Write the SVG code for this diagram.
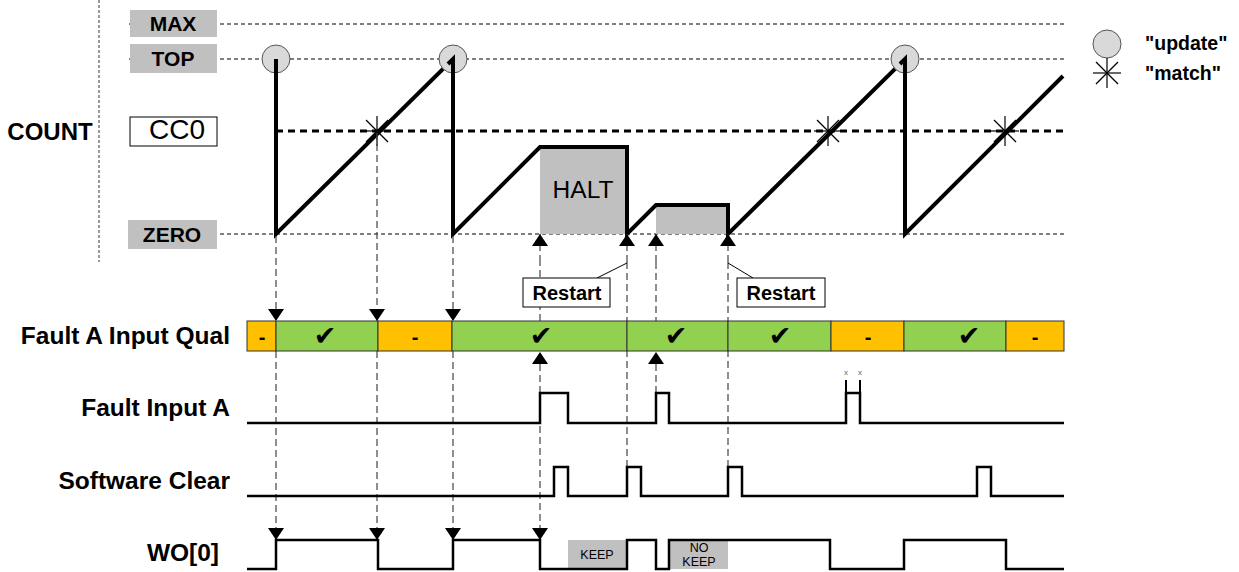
<svg xmlns="http://www.w3.org/2000/svg" width="1239" height="572" viewBox="0 0 1239 572">
<style>
text{font-family:"Liberation Sans",Arial,sans-serif;fill:#000}
.b{font-weight:bold}
.lbl{font-size:21px;font-weight:bold;text-anchor:middle}
.sig{font-size:24.5px;font-weight:bold;text-anchor:end}
.rs{font-size:20px;font-weight:bold;text-anchor:middle}
.ref{stroke:#000;stroke-width:1;stroke-dasharray:4,3;fill:none}
.vd{stroke:#444;stroke-width:1.2;stroke-dasharray:7,4;fill:none}
.wave{stroke:#000;stroke-width:2.5;fill:none;stroke-linejoin:miter}
.cnt{stroke:#000;stroke-width:4;fill:none;stroke-linejoin:miter}
.gbox{fill:#c0c0c0}
.upd{fill:#d9d9d9;stroke:#555;stroke-width:1}
.star{stroke:#000;stroke-width:1.2}
.green{fill:#92d050;stroke:#333;stroke-width:1}
.orange{fill:#ffc000;stroke:#333;stroke-width:1}
.qt{font-size:20px;font-weight:bold;text-anchor:middle}
.ck{font-size:27px;text-anchor:middle;font-family:"DejaVu Sans",sans-serif}
.kp{font-size:12.5px;text-anchor:middle}
</style>
<defs>
<marker id="ah" viewBox="0 0 12 16" refX="12" refY="8" markerWidth="12" markerHeight="16" markerUnits="userSpaceOnUse" orient="auto">
<path d="M0,0 L12,8 L0,16 Z" fill="#000"/>
</marker>
<g id="starShape"><line x1="-14" y1="0" x2="14" y2="0"/><line x1="0" y1="-15" x2="0" y2="15"/><line x1="-11" y1="-11" x2="11" y2="11"/><line x1="-11" y1="11" x2="11" y2="-11"/></g>
</defs>
<rect width="1239" height="572" fill="#fff"/>

<!-- axis separator -->
<line x1="99" y1="0" x2="99" y2="262" stroke="#333" stroke-width="1" stroke-dasharray="3,2"/>

<!-- reference lines -->
<g id="reflines">
<line class="ref" x1="129" y1="24" x2="1065" y2="24"/>
<line class="ref" x1="129" y1="59" x2="1065" y2="59"/>
<line class="ref" x1="129" y1="234" x2="1065" y2="234"/>
<line x1="276" y1="131" x2="1065" y2="131" stroke="#000" stroke-width="3" stroke-dasharray="7,5"/>
</g>

<g id="label-max"><rect class="gbox" x="130" y="10" width="87" height="27"/><text class="lbl" x="173" y="31">MAX</text></g>
<g id="label-top"><rect class="gbox" x="130" y="44" width="87" height="29"/><text class="lbl" x="173" y="66">TOP</text></g>
<g id="label-cc0"><rect x="130" y="117" width="87" height="29" fill="#fff" stroke="#000" stroke-width="1"/><text x="177" y="139" font-size="28" text-anchor="middle">CC0</text></g>
<g id="label-zero"><rect class="gbox" x="128" y="220" width="89" height="29"/><text class="lbl" x="172" y="242">ZERO</text></g>
<g id="label-count"><text x="50" y="140" font-size="24" class="b" text-anchor="middle">COUNT</text></g>

<!-- halt regions -->
<g id="halt">
<rect class="gbox" x="540" y="147" width="87" height="87"/>
<text x="583" y="198" font-size="24.5" text-anchor="middle">HALT</text>
<rect class="gbox" x="656" y="205" width="72" height="29"/>
</g>

<!-- counter -->
<g id="counter">
<polyline class="cnt" points="276,59 276,234 453,59 453,234 540,147 627,147 627,234 656,205 728,205 728,234 905,59 905,234 1063,76"/>
</g>

<g id="updates">
<circle class="upd" cx="276" cy="59" r="14"/>
<circle class="upd" cx="453" cy="59" r="14"/>
<circle class="upd" cx="905" cy="59" r="14"/>
</g>
<polyline class="cnt" points="276,59 276,234"/>
<polyline class="cnt" points="448,64 453,59 453,234"/>
<polyline class="cnt" points="900,64 905,59 905,234"/>

<g id="matches" class="star">
<use href="#starShape" x="377" y="131"/>
<use href="#starShape" x="828" y="131"/>
<use href="#starShape" x="1005" y="131"/>
</g>

<!-- legend -->
<g id="legend">
<circle class="upd" cx="1107" cy="44" r="14"/>
<use href="#starShape" x="1107" y="73" class="star"/>
<text x="1145" y="50" font-size="19.5" class="b">"update"</text>
<text x="1145" y="80" font-size="19.5" class="b">"match"</text>
</g>

<!-- connectors -->
<g id="connectors">
<line class="vd" x1="276" y1="236" x2="276" y2="321" marker-end="url(#ah)"/>
<line class="vd" x1="377" y1="133" x2="377" y2="321" marker-end="url(#ah)"/>
<line class="vd" x1="453" y1="236" x2="453" y2="321" marker-end="url(#ah)"/>
<line class="vd" x1="276" y1="351" x2="276" y2="540" marker-end="url(#ah)"/>
<line class="vd" x1="377" y1="351" x2="377" y2="540" marker-end="url(#ah)"/>
<line class="vd" x1="453" y1="351" x2="453" y2="540" marker-end="url(#ah)"/>
<line class="vd" x1="540" y1="262" x2="540" y2="234" marker-end="url(#ah)"/>
<line class="vd" x1="540" y1="321" x2="540" y2="262"/>
<line class="vd" x1="540" y1="393" x2="540" y2="352" marker-end="url(#ah)"/>
<line class="vd" x1="540" y1="393" x2="540" y2="540" marker-end="url(#ah)"/>
<line class="vd" x1="627" y1="262" x2="627" y2="234" marker-end="url(#ah)"/>
<line class="vd" x1="627" y1="262" x2="627" y2="467"/>
<line class="vd" x1="656" y1="262" x2="656" y2="234" marker-end="url(#ah)"/>
<line class="vd" x1="656" y1="262" x2="656" y2="321"/>
<line class="vd" x1="656" y1="393" x2="656" y2="352" marker-end="url(#ah)"/>
<line class="vd" x1="728" y1="262" x2="728" y2="234" marker-end="url(#ah)"/>
<line class="vd" x1="728" y1="262" x2="728" y2="467"/>
<line x1="597" y1="278" x2="627" y2="263" stroke="#000" stroke-width="1"/>
<line x1="728" y1="263" x2="753" y2="278" stroke="#000" stroke-width="1"/>
</g>

<g id="restart1"><rect x="523" y="278" width="87" height="29" fill="#fff" stroke="#000" stroke-width="1"/><text class="rs" x="567" y="300">Restart</text></g>
<g id="restart2"><rect x="737" y="278" width="88" height="29" fill="#fff" stroke="#000" stroke-width="1"/><text class="rs" x="781" y="300">Restart</text></g>

<!-- qualifier bar -->
<g id="qual">
<rect class="orange" x="247" y="321" width="29" height="30"/>
<rect class="green" x="276" y="321" width="102" height="30"/>
<rect class="orange" x="378" y="321" width="74" height="30"/>
<rect class="green" x="452" y="321" width="175" height="30"/>
<rect class="green" x="627" y="321" width="101" height="30"/>
<rect class="green" x="728" y="321" width="103" height="30"/>
<rect class="orange" x="831" y="321" width="73" height="30"/>
<rect class="green" x="904" y="321" width="102" height="30"/>
<rect class="orange" x="1006" y="321" width="58" height="30"/>
<text class="qt" x="262" y="344">-</text>
<text class="qt" x="415" y="344">-</text>
<text class="qt" x="868" y="344">-</text>
<text class="qt" x="1035" y="344">-</text>
<text class="ck" x="325" y="345">✔</text>
<text class="ck" x="541" y="345">✔</text>
<text class="ck" x="676" y="345">✔</text>
<text class="ck" x="780" y="345">✔</text>
<text class="ck" x="969" y="345">✔</text>
</g>

<!-- signal labels -->
<g id="signal-labels">
<text class="sig" x="230" y="344">Fault A Input Qual</text>
<text class="sig" x="230" y="416">Fault Input A</text>
<text class="sig" x="230" y="489">Software Clear</text>
<text class="sig" x="219" y="561">WO[0]</text>
</g>

<!-- KEEP boxes -->
<g id="keep"><rect class="gbox" x="568" y="540" width="59" height="29"/><text class="kp" x="597" y="559">KEEP</text></g>
<g id="nokeep"><rect class="gbox" x="670" y="540" width="58" height="29"/><text class="kp" x="699" y="552">NO</text><text class="kp" x="699" y="566">KEEP</text></g>

<!-- waveforms -->
<g id="fault-input-a">
<polyline class="wave" points="247,423 540,423 540,393 568,393 568,423 656,423 656,393 669,393 669,423 846,423 846,393 860,393 860,423 1064,423"/>
<line x1="846" y1="380" x2="846" y2="393" stroke="#000" stroke-width="2"/>
<line x1="860" y1="380" x2="860" y2="393" stroke="#000" stroke-width="2"/>
<text x="846" y="375" font-size="8" text-anchor="middle" style="fill:#666">x</text>
<text x="860" y="375" font-size="8" text-anchor="middle" style="fill:#666">x</text>
</g>
<g id="software-clear">
<polyline class="wave" points="247,496 554,496 554,467 568,467 568,496 627,496 627,467 641,467 641,496 728,496 728,467 742,467 742,496 977,496 977,467 991,467 991,496 1064,496"/>
</g>
<g id="wo0">
<polyline class="wave" points="247,569 276,569 276,540 378,540 378,569 453,569 453,540 540,540 540,569 627,569 627,540 656,540 656,569 669,569 669,540 830,540 830,569 904,569 904,540 1006,540 1006,569 1064,569"/>
</g>
</svg>
